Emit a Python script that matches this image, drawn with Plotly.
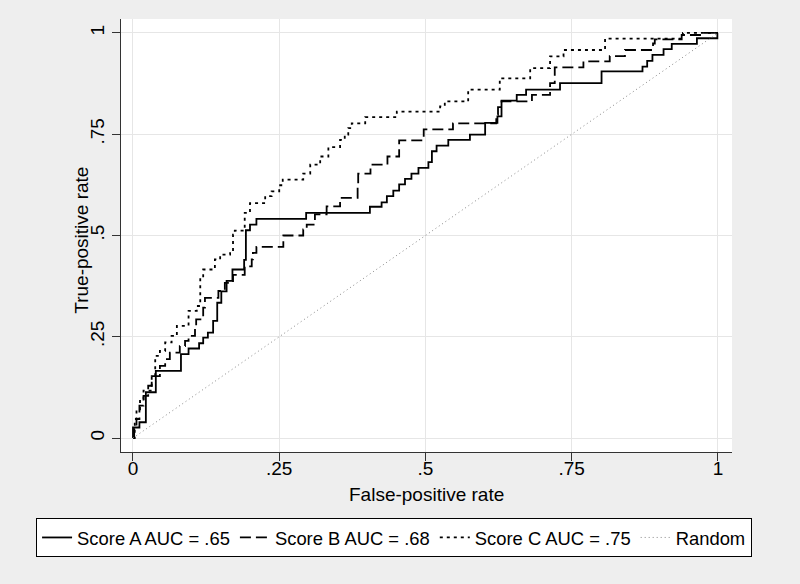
import plotly.graph_objects as go

# ROC points (false-positive rate, true-positive rate)
score_a_fpr = [0, 0, 0.011, 0.022, 0.039, 0.082, 0.095, 0.113, 0.120, 0.128,
               0.137, 0.144, 0.151, 0.160, 0.170, 0.190, 0.193, 0.200, 0.211, 0.296,
               0.405, 0.425, 0.434, 0.445, 0.455, 0.465, 0.476, 0.488, 0.505, 0.511,
               0.519, 0.539, 0.576, 0.602, 0.623, 0.630, 0.656, 0.672, 0.730, 0.801,
               0.871, 0.879, 0.888, 0.907, 0.921, 0.964, 0.999, 1.0]
score_a_tpr = [0, 0.026, 0.039, 0.113, 0.166, 0.207, 0.221, 0.234, 0.248, 0.260,
               0.289, 0.334, 0.362, 0.388, 0.416, 0.44, 0.513, 0.527, 0.541, 0.556,
               0.571, 0.582, 0.597, 0.611, 0.626, 0.640, 0.653, 0.667, 0.681, 0.708,
               0.722, 0.736, 0.749, 0.778, 0.794, 0.833, 0.847, 0.860, 0.876, 0.905,
               0.917, 0.931, 0.946, 0.960, 0.973, 0.987, 1.0, 1.0]

score_b_fpr = [0, 0.002, 0.006, 0.011, 0.018, 0.026, 0.032, 0.046, 0.055, 0.063,
               0.080, 0.089, 0.095, 0.106, 0.108, 0.120, 0.123, 0.146, 0.157, 0.171,
               0.191, 0.203, 0.205, 0.211, 0.257, 0.291, 0.297, 0.311, 0.331, 0.354,
               0.384, 0.385, 0.406, 0.435, 0.455, 0.497, 0.547, 0.621, 0.624, 0.630,
               0.682, 0.713, 0.721, 0.770, 0.815, 0.841, 0.889, 0.892, 0.938, 0.972, 1.0]
score_b_tpr = [0, 0.022, 0.047, 0.080, 0.104, 0.129, 0.153, 0.178, 0.195, 0.211,
               0.227, 0.240, 0.252, 0.277, 0.293, 0.322, 0.346, 0.363, 0.383, 0.403,
               0.424, 0.441, 0.457, 0.472, 0.500, 0.515, 0.527, 0.552, 0.572, 0.593,
               0.626, 0.653, 0.675, 0.695, 0.735, 0.762, 0.777, 0.798, 0.817, 0.831,
               0.847, 0.876, 0.915, 0.930, 0.943, 0.958, 0.974, 0.984, 0.995, 1.0, 1.0]

score_c_fpr = [0, 0.003, 0.006, 0.012, 0.018, 0.032, 0.038, 0.046, 0.055, 0.066,
               0.075, 0.095, 0.109, 0.115, 0.120, 0.140, 0.149, 0.166, 0.171, 0.174,
               0.191, 0.200, 0.226, 0.237, 0.250, 0.256, 0.291, 0.303, 0.320, 0.334,
               0.354, 0.362, 0.368, 0.374, 0.397, 0.451, 0.525, 0.533, 0.573, 0.627,
               0.679, 0.713, 0.736, 0.807, 0.940, 1.0]
score_c_tpr = [0, 0.047, 0.071, 0.096, 0.117, 0.153, 0.203, 0.215, 0.236, 0.252,
               0.277, 0.314, 0.326, 0.396, 0.416, 0.441, 0.453, 0.461, 0.502, 0.512,
               0.556, 0.580, 0.597, 0.609, 0.624, 0.638, 0.653, 0.675, 0.695, 0.718,
               0.736, 0.749, 0.765, 0.777, 0.792, 0.806, 0.819, 0.831, 0.860, 0.888,
               0.913, 0.942, 0.958, 0.986, 1.0, 1.0]

random_x = [0, 1]
random_y = [0, 1]

tick_vals = [0, 0.25, 0.5, 0.75, 1]
tick_text = ["0", ".25", ".5", ".75", "1"]

font = "Liberation Sans, Arial, Helvetica, sans-serif"

fig = go.Figure()
fig.add_trace(go.Scatter(x=score_a_fpr, y=score_a_tpr, mode="lines", line_shape="hv",
                         name="Score A AUC = .65", line=dict(color="black", width=1.8)))
fig.add_trace(go.Scatter(x=score_b_fpr, y=score_b_tpr, mode="lines", line_shape="hv",
                         name="Score B AUC = .68",
                         line=dict(color="black", width=1.8, dash="11px,5px")))
fig.add_trace(go.Scatter(x=score_c_fpr, y=score_c_tpr, mode="lines", line_shape="hv",
                         name="Score C AUC = .75",
                         line=dict(color="black", width=1.8, dash="3px,4px")))
fig.add_trace(go.Scatter(x=random_x, y=random_y, mode="lines", name="Random",
                         line=dict(color="#888888", width=1, dash="1px,3px")))

axis_common = dict(
    tickmode="array", tickvals=tick_vals, ticktext=tick_text,
    showgrid=True, gridcolor="#e6e6e6", gridwidth=1,
    zeroline=False, showline=True, linecolor="#333333", linewidth=1,
    ticks="outside", ticklen=8, tickcolor="#333333", automargin=False,
    tickfont=dict(family=font, size=19, color="black"),
)

fig.update_xaxes(range=[-0.0205, 1.024], ticklabelstandoff=-9, **axis_common)
fig.update_yaxes(range=[-0.0345, 1.0345], tickangle=-90, **axis_common)

fig.update_layout(
    width=800, height=584,
    paper_bgcolor="#eeeeee", plot_bgcolor="white",
    margin=dict(l=121, r=68, t=19, b=132),
    font=dict(family=font, size=19, color="black"),
    showlegend=True,
    legend=dict(orientation="h", xref="paper", yref="paper",
                x=-0.139, xanchor="left", y=-0.1524, yanchor="top",
                bgcolor="white", bordercolor="black", borderwidth=1,
                itemwidth=30, font=dict(family=font, size=18.4, color="black")),
    annotations=[
        dict(text="False-positive rate", xref="paper", yref="paper",
             x=0.5, y=-0.097, xanchor="center", yanchor="middle",
             showarrow=False, font=dict(family=font, size=19)),
        dict(text="True-positive rate", xref="paper", yref="paper", textangle=-90,
             x=-0.064, y=0.49, xanchor="center", yanchor="middle",
             showarrow=False, font=dict(family=font, size=19)),
    ],
)

fig.write_html("out.html", config={"displayModeBar": False},
               post_script="document.body.style.margin = '0';")
